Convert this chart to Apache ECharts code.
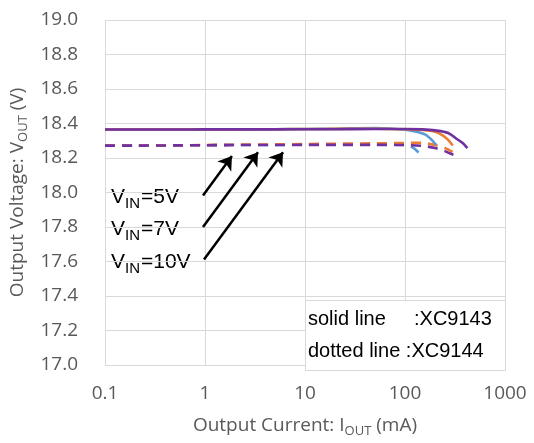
<!DOCTYPE html>
<html>
<head>
<meta charset="utf-8">
<script src="https://cdn.jsdelivr.net/npm/echarts@6/dist/echarts.min.js"></script>
<style>html,body{margin:0;padding:0;background:#fff}#c{width:534px;height:443px}</style>
</head>
<body>
<div id="c"></div>
<script>
// ---- data ----
const xTicks = [0.1, 1, 10, 100, 1000];
const yMin = 17.0, yMax = 19.0, yStep = 0.2;

// XC9143 (solid)
const solid5I  = [0.1, 0.2, 0.5, 1, 2, 5, 10, 20, 50, 100, 130, 160, 185, 205];
const solid5V  = [18.365, 18.365, 18.365, 18.366, 18.366, 18.367, 18.368, 18.370, 18.374, 18.364, 18.352, 18.335, 18.305, 18.275];
const solid7I  = [0.1, 0.2, 0.5, 1, 2, 5, 10, 20, 50, 100, 150, 200, 240, 270, 300];
const solid7V  = [18.365, 18.365, 18.365, 18.366, 18.366, 18.367, 18.368, 18.369, 18.370, 18.367, 18.362, 18.352, 18.330, 18.305, 18.272];
const solid10I = [0.1, 0.2, 0.5, 1, 2, 5, 10, 20, 50, 100, 150, 200, 270, 330, 380, 420];
const solid10V = [18.365, 18.365, 18.365, 18.366, 18.366, 18.366, 18.367, 18.367, 18.368, 18.368, 18.366, 18.360, 18.345, 18.310, 18.285, 18.257];

// XC9144 (dotted)
const dash5I  = [0.1, 0.2, 0.5, 1, 2, 5, 10, 20, 50, 100, 120, 135, 148];
const dash5V  = [18.272, 18.272, 18.273, 18.274, 18.275, 18.276, 18.277, 18.278, 18.278, 18.275, 18.260, 18.235, 18.210];
const dash7I  = [0.1, 0.2, 0.5, 1, 2, 5, 10, 20, 50, 100, 150, 200, 250, 300];
const dash7V  = [18.272, 18.272, 18.273, 18.275, 18.277, 18.279, 18.281, 18.283, 18.285, 18.287, 18.288, 18.275, 18.258, 18.235];
const dash10I = [0.1, 0.2, 0.5, 1, 2, 5, 10, 20, 50, 100, 150, 200, 250, 300, 350];
const dash10V = [18.272, 18.272, 18.273, 18.274, 18.275, 18.275, 18.276, 18.276, 18.276, 18.275, 18.270, 18.258, 18.240, 18.220, 18.200];

// annotation arrows: [startI, startV, tipI, tipV]
const arrow5  = [0.955, 17.983, 1.86, 18.211];
const arrow7  = [0.955, 17.800, 3.39, 18.234];
const arrow10 = [0.977, 17.611, 6.03, 18.234];

const labelTexts = ['=5V', '=7V', '=10V'];

const BLUE = '#5B9BD5', ORANGE = '#ED7D31', PURPLE = '#7030A0';
const GRID = '#d9d9d9', AXTXT = '#595959';
const FONT = 'Open Sans';

function pairs(xs, ys) { return xs.map((x, i) => [x, ys[i]]); }

function lineSeries(name, xs, ys, color, dashed) {
  return {
    name, type: 'line', data: pairs(xs, ys), showSymbol: false, symbol: 'none',
    smooth: 0.3, silent: true, animation: false,
    lineStyle: { color, width: 2.6, type: dashed ? [10, 7] : 'solid', cap: 'butt' },
    z: 3
  };
}

const series = [
  lineSeries('dash5', dash5I, dash5V, BLUE, true),
  lineSeries('dash7', dash7I, dash7V, ORANGE, true),
  lineSeries('dash10', dash10I, dash10V, PURPLE, true),
  lineSeries('solid5', solid5I, solid5V, BLUE, false),
  lineSeries('solid7', solid7I, solid7V, ORANGE, false),
  lineSeries('solid10', solid10I, solid10V, PURPLE, false),
  {
    name: 'arrows', type: 'line', data: [], z: 5, animation: false,
    markLine: {
      silent: true, animation: false,
      symbol: ['none', 'arrow'], symbolSize: 13,
      label: { show: false },
      itemStyle: { color: '#000' },
      lineStyle: { color: '#000', width: 2.5, type: 'solid' },
      data: [arrow5, arrow7, arrow10].map(a => [{ coord: [a[0], a[1]] }, { coord: [a[2], a[3]] }])
    }
  }
];

const chart = echarts.init(document.getElementById('c'), null, { renderer: 'canvas' });

const labelY = [199, 231, 264];
const graphics = [];
labelY.forEach((y, i) => {
  graphics.push({ type: 'text', left: 111, top: y - 12, silent: true,
    style: { text: 'V', font: '21px "Liberation Sans"', fill: '#000' } });
  graphics.push({ type: 'text', left: 125, top: y - 3, silent: true,
    style: { text: 'IN', font: '15px "Liberation Sans"', fill: '#000' } });
  graphics.push({ type: 'text', left: 141, top: y - 12, silent: true,
    style: { text: labelTexts[i], font: '21px "Liberation Sans"', fill: '#000' } });
});
graphics.push({ type: 'rect', left: 305, top: 300, silent: true, z: 10,
  shape: { width: 200, height: 70 }, style: { fill: '#fff', stroke: GRID, lineWidth: 1 } });
graphics.push({ type: 'text', left: 308, top: 309, silent: true, z: 11,
  style: { text: 'solid line', font: '20px "Liberation Sans"', fill: '#000' } });
graphics.push({ type: 'text', left: 414, top: 309, silent: true, z: 11,
  style: { text: ':XC9143', font: '20px "Liberation Sans"', fill: '#000' } });
graphics.push({ type: 'text', left: 308, top: 341, silent: true, z: 11,
  style: { text: 'dotted line :XC9144', font: '20px "Liberation Sans"', fill: '#000' } });

chart.setOption({
  animation: false,
  backgroundColor: '#fff',
  grid: { left: 105, right: 29, top: 20, bottom: 73, containLabel: false },
  xAxis: {
    type: 'log', logBase: 10, min: xTicks[0], max: xTicks[xTicks.length - 1],
    axisLine: { show: false }, axisTick: { show: false },
    splitLine: { show: true, lineStyle: { color: GRID, width: 1 } },
    axisLabel: { color: AXTXT, fontFamily: FONT, fontSize: 19, margin: 19,
      formatter: v => (v < 1 ? Number(v).toFixed(1) : String(Math.round(v))) },
    name: '{a|Output Current: I}{b|OUT}{a| (mA)}',
    nameLocation: 'middle', nameGap: 49,
    nameTextStyle: { rich: {
      a: { color: AXTXT, fontFamily: FONT, fontSize: 19, lineHeight: 24 },
      b: { color: AXTXT, fontFamily: FONT, fontSize: 13, lineHeight: 14, verticalAlign: 'bottom' }
    } }
  },
  yAxis: {
    type: 'value', min: yMin, max: yMax, interval: yStep,
    axisLine: { show: false }, axisTick: { show: false },
    splitLine: { show: true, lineStyle: { color: GRID, width: 1 } },
    axisLabel: { color: AXTXT, fontFamily: FONT, fontSize: 19, margin: 27,
      formatter: v => Number(v).toFixed(1) },
    name: '{a|Output Voltage: V}{b|OUT}{a| (V)}',
    nameLocation: 'middle', nameGap: 72, nameRotate: 90,
    nameTextStyle: { rich: {
      a: { color: AXTXT, fontFamily: FONT, fontSize: 19, lineHeight: 24 },
      b: { color: AXTXT, fontFamily: FONT, fontSize: 13, lineHeight: 14, verticalAlign: 'bottom' }
    } }
  },
  graphic: graphics,
  series
});
</script>
</body>
</html>
